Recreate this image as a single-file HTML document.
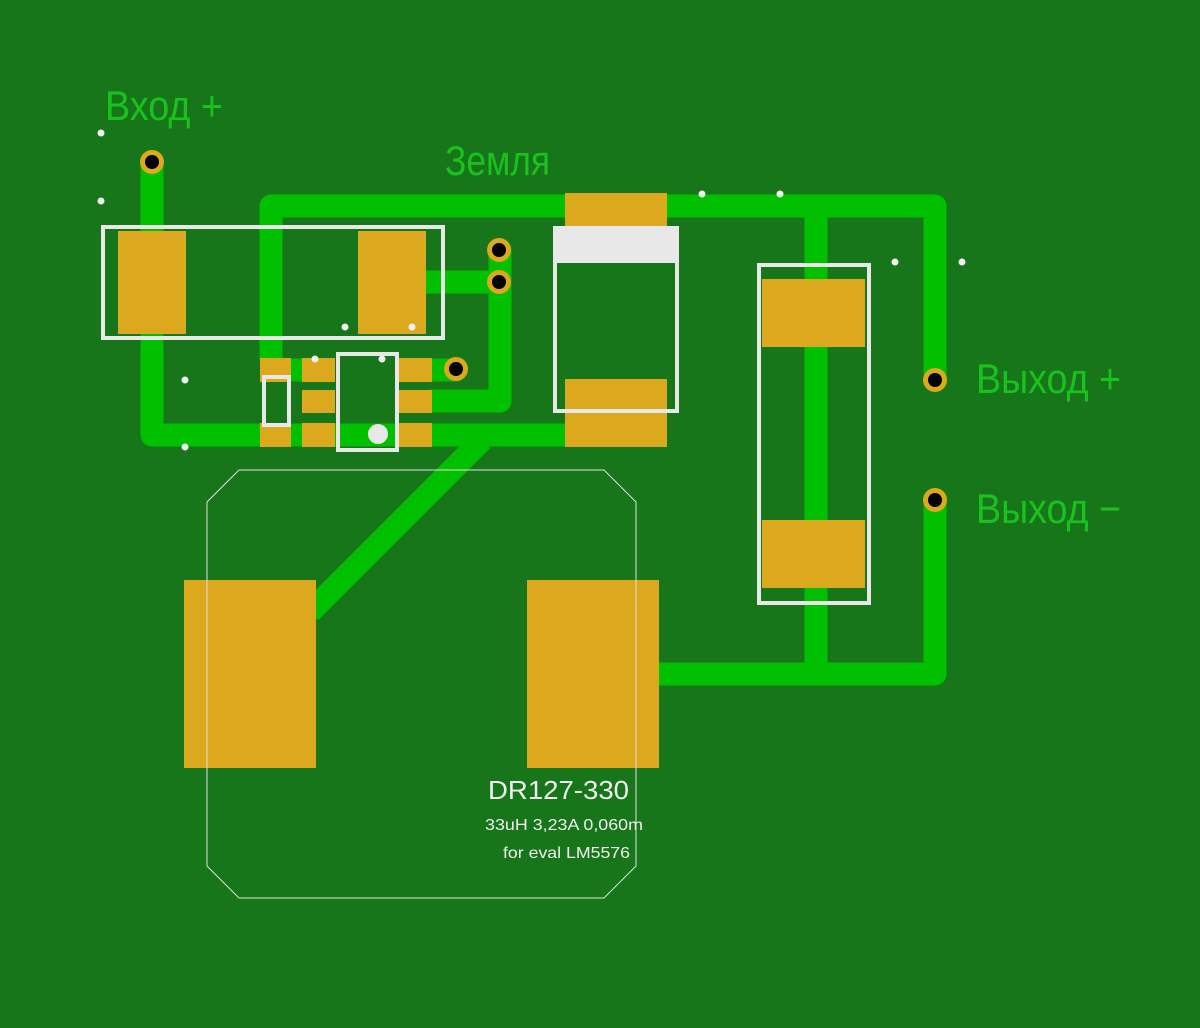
<!DOCTYPE html>
<html><head><meta charset="utf-8"><style>html,body{margin:0;padding:0;background:#17761a;}svg{display:block}</style></head>
<body>
<svg width="1200" height="1028" viewBox="0 0 1200 1028" xmlns="http://www.w3.org/2000/svg">
<rect width="1200" height="1028" fill="#17761a"/>
<g fill="none" stroke="#00c000" stroke-width="23" stroke-linejoin="round" stroke-linecap="round">
  <path d="M152 162 V435 H565"/>
  <path d="M271 358 V206 H935 V380"/>
  <path d="M816 206 V674"/>
  <path d="M935 500 V674 H659"/>
  <path d="M426 282 H500"/>
  <path d="M500 250 V401 H432"/>
  <path d="M432 370 H456"/>
  <path d="M291 370 H302"/>
  <path d="M482 440 L310 612" stroke-linecap="butt"/>
</g>
<g fill="#dba81e">
  <rect x="118" y="231" width="68" height="103"/>
  <rect x="358" y="231" width="68" height="103"/>
  <rect x="260" y="358" width="31" height="24"/>
  <rect x="260" y="423" width="31" height="24"/>
  <rect x="302" y="358" width="33" height="24"/>
  <rect x="302" y="390" width="33" height="23"/>
  <rect x="302" y="423" width="33" height="24"/>
  <rect x="398" y="358" width="34" height="24"/>
  <rect x="398" y="390" width="34" height="23"/>
  <rect x="398" y="423" width="34" height="24"/>
  <rect x="565" y="193" width="102" height="40"/>
  <rect x="565" y="379" width="102" height="68"/>
  <rect x="762" y="279" width="103" height="68"/>
  <rect x="762" y="520" width="103" height="68"/>
  <rect x="184" y="580" width="132" height="188"/>
  <rect x="527" y="580" width="132" height="188"/>
</g>
<g fill="#dba81e">
  <circle cx="152" cy="162" r="12"/><circle cx="499" cy="250" r="12"/><circle cx="499" cy="282" r="12"/>
  <circle cx="456" cy="369" r="12"/><circle cx="935" cy="380" r="12"/><circle cx="935" cy="500" r="12"/>
</g>
<g fill="#000">
  <circle cx="152" cy="162" r="7"/><circle cx="499" cy="250" r="7"/><circle cx="499" cy="282" r="7"/>
  <circle cx="456" cy="369" r="7"/><circle cx="935" cy="380" r="7"/><circle cx="935" cy="500" r="7"/>
</g>
<g fill="none" stroke="#e8e8e8" stroke-width="4">
  <rect x="103" y="227" width="340" height="111"/>
  <rect x="338" y="354" width="59" height="96"/>
  <rect x="264" y="377" width="25" height="48"/>
  <rect x="555" y="228" width="122" height="183"/>
  <rect x="759" y="265" width="110" height="338"/>
</g>
<rect x="553" y="226" width="126" height="37" fill="#e8e8e8"/>
<circle cx="378" cy="434" r="10" fill="#e8e8e8"/>
<polygon points="239,470 604,470 636,502 636,866 604,898 239,898 207,866 207,502" fill="none" stroke="#e0e0e0" stroke-width="1"/>
<g fill="#f0f0f0">
  <circle cx="101" cy="133" r="3.5"/><circle cx="101" cy="201" r="3.5"/><circle cx="185" cy="380" r="3.5"/>
  <circle cx="185" cy="447" r="3.5"/><circle cx="345" cy="327" r="3.5"/><circle cx="412" cy="327" r="3.5"/>
  <circle cx="315" cy="359" r="3.5"/><circle cx="382" cy="359" r="3.5"/><circle cx="702" cy="194" r="3.5"/>
  <circle cx="780" cy="194" r="3.5"/><circle cx="895" cy="262" r="3.5"/><circle cx="962" cy="262" r="3.5"/>
</g>
<g font-family="Liberation Sans, DejaVu Sans, sans-serif" fill="#19c21d">
  <text x="105" y="120" font-size="42" textLength="118" lengthAdjust="spacingAndGlyphs">Вход +</text>
  <text x="445" y="175" font-size="42" textLength="105" lengthAdjust="spacingAndGlyphs">Земля</text>
  <text x="976" y="393" font-size="42" textLength="145" lengthAdjust="spacingAndGlyphs">Выход +</text>
  <text x="976" y="523" font-size="42" textLength="145" lengthAdjust="spacingAndGlyphs">Выход −</text>
</g>
<g font-family="Liberation Sans, DejaVu Sans, sans-serif" fill="#f0f0f0">
  <text x="488" y="799" font-size="26" textLength="141" lengthAdjust="spacingAndGlyphs">DR127-330</text>
  <text x="485" y="830" font-size="16" textLength="158" lengthAdjust="spacingAndGlyphs">33uH 3,23A 0,060m</text>
  <text x="503" y="858" font-size="16" textLength="127" lengthAdjust="spacingAndGlyphs">for eval LM5576</text>
</g>
</svg>
</body></html>
